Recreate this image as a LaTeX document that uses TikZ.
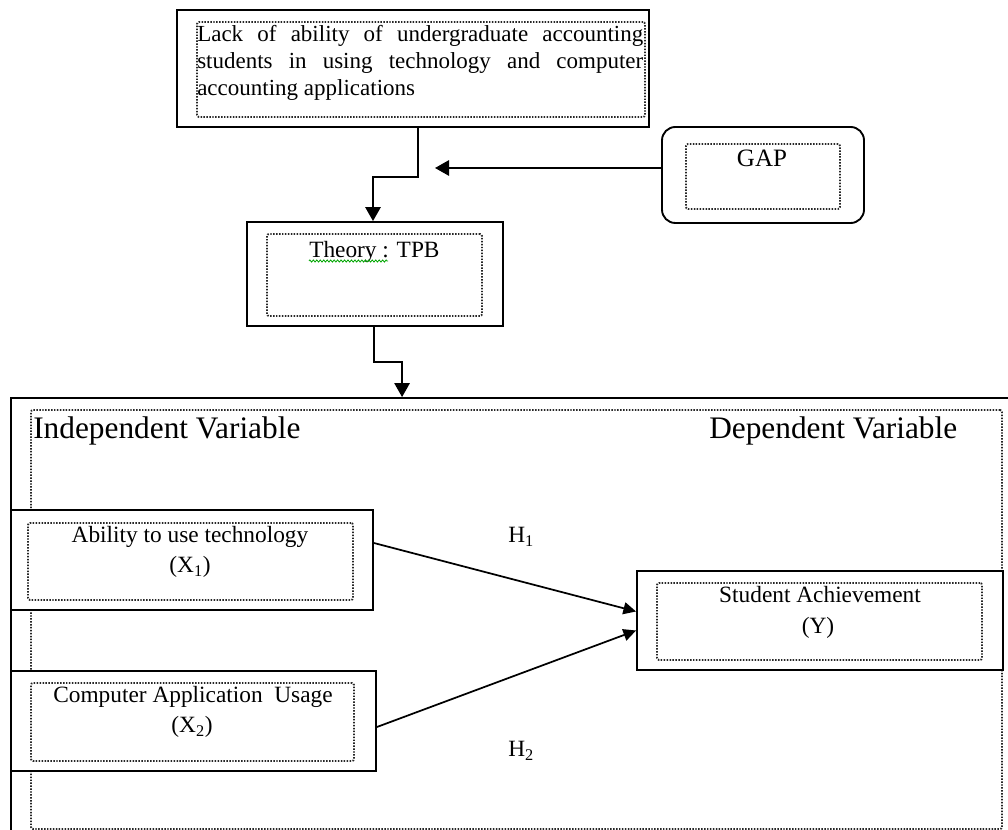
\documentclass[tikz,border=0pt]{standalone}
\usepackage{fontspec}
\setmainfont{Liberation Serif}
\usetikzlibrary{arrows.meta,decorations.pathmorphing,fit,calc}
\tikzset{
  solidbox/.style={draw=black, line width=1.4pt, fill=white, rectangle, inner sep=0pt},
  dotbox/.style={draw=black!85, line width=1.4pt, dash pattern=on 1.1pt off 1.1pt, rounded corners=1.5pt, rectangle, inner sep=0pt},
  conn/.style={draw=black, line width=1.4pt},
  arr/.style={conn, -{Triangle[length=10.5pt,width=11.5pt]}},
  harr/.style={conn, line width=1.3pt, -{Triangle[length=9.5pt,width=9pt]}},
  txt/.style={font=\fontsize{17.5pt}{22pt}\selectfont, inner sep=0pt},
  toptxt/.style={font=\fontsize{17.25pt}{20.25pt}\selectfont, inner sep=0pt},
  gaptxt/.style={font=\fontsize{18.75pt}{22pt}\selectfont, inner sep=0pt},
  bigtxt/.style={font=\fontsize{23.5pt}{28pt}\selectfont, inner sep=0pt},
}
\begin{document}
\begin{tikzpicture}[x=0.75pt,y=-0.75pt]
\useasboundingbox (0,0) rectangle (1008,830);
\clip (0,0) rectangle (1008,830);
\fill[white] (0,0) rectangle (1008,830);

% big container
\node[solidbox, fill=none, fit={(11,398) (1015,842)}] (big) {};
\node[dotbox, fit={(31,410) (1002,829)}] (bigin) {};
\node[bigtxt, anchor=base west] (indep) at (33,439) {Independent Variable};
\node[bigtxt, anchor=base west] (dep) at (709,439) {Dependent Variable};

% top box
\node[solidbox, fit={(177,10) (649,127)}] (top) {};
\node[dotbox, fit={(197,22) (645,117)}] (topin) {};
\node[toptxt, anchor=base west] (toptext) at (197,42) {\parbox[t]{334.5pt}{Lack of ability of undergraduate accounting\linebreak students in using technology and computer\linebreak accounting applications}};

% GAP box
\node[solidbox, rounded corners=10pt, fit={(662,127) (864,223)}] (gap) {};
\node[dotbox, fit={(686,144) (840,209)}] (gapin) {};
\node[gaptxt, anchor=base] (gaptext) at (762,167) {GAP};

% Theory box
\node[solidbox, fit={(247,222) (503,326)}] (theory) {};
\node[dotbox, fit={(267,234) (482,316)}] (theoryin) {};
\node[txt, anchor=base west] (theorytxt) at (309,258) {Theory : TPB};
\draw[green!65!black, line width=0.6pt, decorate, decoration={zigzag, amplitude=0.8pt, segment length=2.6pt}] ($(theorytxt.base west)+(0,3)$) -- ++(79,0);

% X1 box
\node[solidbox, fit={(11,510) (373,610)}] (x1) {};
\node[dotbox, fit={(28,523) (353,600)}] (x1in) {};
\node[txt, anchor=base] (x1a) at (190,543) {Ability to use technology};
\node[txt, anchor=base] (x1b) at (190,573) {(X\textsubscript{1})};

% X2 box
\node[solidbox, fit={(11,671) (376,771)}] (x2) {};
\node[dotbox, fit={(31,683) (354,761)}] (x2in) {};
\node[txt, anchor=base] (x2a) at (193,703) {Computer Application\ \ Usage};
\node[txt, anchor=base] (x2b) at (192,733) {(X\textsubscript{2})};

% Y box
\node[solidbox, fit={(637,571) (1003,670)}] (y) {};
\node[dotbox, fit={(657,583) (982,660)}] (yin) {};
\node[txt, anchor=base] (ya) at (820,603) {Student Achievement};
\node[txt, anchor=base] (yb) at (818,634) {(Y)};

% hypothesis labels
\node[txt, anchor=base west] (h1) at (508,543) {H\textsubscript{1}};
\node[txt, anchor=base west] (h2) at (508,757) {H\textsubscript{2}};

% connectors
\coordinate (gaptip) at (435,168);
\draw[arr] (gap.west |- gaptip) -- (gaptip);
\draw[arr] ([xshift=3.75pt]top.south) -- ++(0,49) -| ([xshift=-1.5pt]theory.north);
\draw[arr] ([xshift=-0.75pt]theory.south) -- ++(0,35) -| ([xshift=294pt]big.north west);
\draw[harr] ([yshift=12.75pt]x1.east) -- ([yshift=6.75pt]y.west);
\draw[harr] ([yshift=-4.5pt]x2.east) -- ([yshift=-7.5pt]y.west);
\end{tikzpicture}
\end{document}
